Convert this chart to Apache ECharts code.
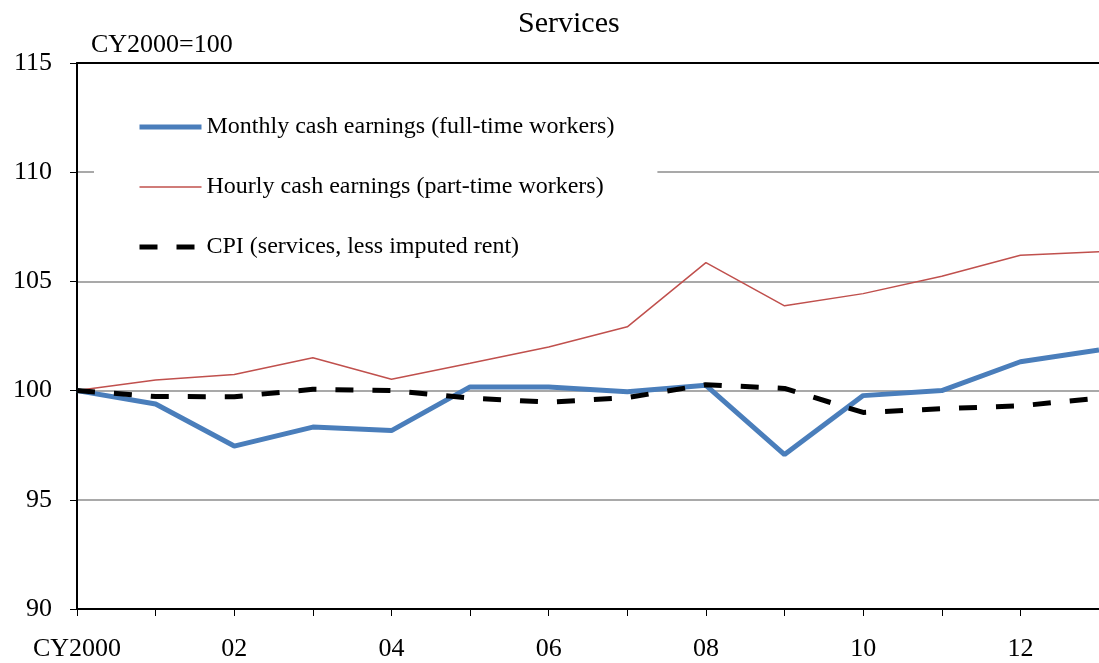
<!DOCTYPE html>
<html>
<head>
<meta charset="utf-8">
<script src="https://cdn.jsdelivr.net/npm/echarts@6/dist/echarts.min.js"></script>
<style>html,body{margin:0;padding:0;background:#fff;}#c{width:1099px;height:663px;}</style>
</head>
<body>
<div id="c"></div>
<script>
var categories = ["CY2000","01","02","03","04","05","06","07","08","09","10","11","12","13"];
var monthlyFull = [100, 99.39, 97.46, 98.33, 98.17, 100.17, 100.17, 99.95, 100.24, 97.07, 99.77, 100.0, 101.32, 101.86];
var hourlyPart = [100, 100.49, 100.74, 101.5, 100.52, 101.25, 102.0, 102.92, 105.86, 103.88, 104.44, 105.24, 106.2, 106.36];
var cpiServices = [100, 99.73, 99.72, 100.06, 100.0, 99.66, 99.47, 99.68, 100.27, 100.1, 99.0, 99.17, 99.3, 99.66];
var yTicks = {min: 90, max: 115, interval: 5};
var seriesNames = ["Monthly cash earnings (full-time workers)", "Hourly cash earnings (part-time workers)", "CPI (services, less imputed rent)"];
var seriesColors = ['#4a7ebb', '#c0504d', '#000000'];
var seriesWidths = [5, 1.5, 5];

var FONT = "Liberation Serif";
var chart = echarts.init(document.getElementById('c'), null, {renderer: 'canvas'});
chart.setOption({
  animation: false,
  backgroundColor: '#fff',
  title: {
    text: 'Services',
    left: 513, top: 4,
    textStyle: {fontFamily: FONT, fontSize: 30, fontWeight: 'normal', color: '#000'}
  },
  legend: {
    orient: 'vertical',
    left: 94, top: 105,
    padding: [10, 43, 10, 43],
    backgroundColor: '#fff',
    itemWidth: 62, itemHeight: 24, itemGap: 36,
    textStyle: {fontFamily: FONT, fontSize: 24, color: '#000'},
    data: seriesNames.map(function (n, i) {
      return {name: n, itemStyle: {opacity: 0, borderWidth: 0}, lineStyle: {width: seriesWidths[i], color: seriesColors[i]}};
    })
  },
  grid: {left: 77, right: 0, top: 63, bottom: 54, containLabel: false},
  xAxis: [{
    type: 'category',
    data: categories,
    boundaryGap: false,
    axisLine: {lineStyle: {color: '#000', width: 2}},
    axisTick: {show: true, interval: 0, length: 7, lineStyle: {color: '#000', width: 1}},
    axisLabel: {interval: 1, margin: 27, fontFamily: FONT, fontSize: 26, color: '#000'},
    splitLine: {show: false}
  }, {
    type: 'category',
    data: categories,
    position: 'top',
    boundaryGap: false,
    axisLine: {show: true, lineStyle: {color: '#000', width: 2}},
    axisTick: {show: false},
    axisLabel: {show: false},
    splitLine: {show: false}
  }],
  yAxis: {
    type: 'value',
    min: yTicks.min, max: yTicks.max, interval: yTicks.interval,
    name: 'CY2000=100',
    nameLocation: 'end',
    nameGap: 18,
    nameTextStyle: {fontFamily: FONT, fontSize: 26, color: '#000', align: 'left', verticalAlign: 'middle', padding: [0, 0, 0, 14]},
    axisLine: {show: true, lineStyle: {color: '#000', width: 2}},
    axisTick: {show: true, length: 7, lineStyle: {color: '#000', width: 1}},
    axisLabel: {margin: 25, fontFamily: FONT, fontSize: 26, color: '#000'},
    splitLine: {show: true, lineStyle: {color: '#8c8c8c', width: 1.5}}
  },
  series: [{
    name: seriesNames[0], type: 'line', data: monthlyFull,
    symbol: 'none', z: 3,
    lineStyle: {color: seriesColors[0], width: seriesWidths[0]},
    itemStyle: {color: seriesColors[0]}
  }, {
    name: seriesNames[1], type: 'line', data: hourlyPart,
    symbol: 'none', z: 2,
    lineStyle: {color: seriesColors[1], width: seriesWidths[1]},
    itemStyle: {color: seriesColors[1]}
  }, {
    name: seriesNames[2], type: 'line', data: cpiServices,
    symbol: 'none', z: 4,
    lineStyle: {color: seriesColors[2], width: seriesWidths[2], type: [18, 19]},
    itemStyle: {color: seriesColors[2]}
  }]
});
</script>
</body>
</html>
